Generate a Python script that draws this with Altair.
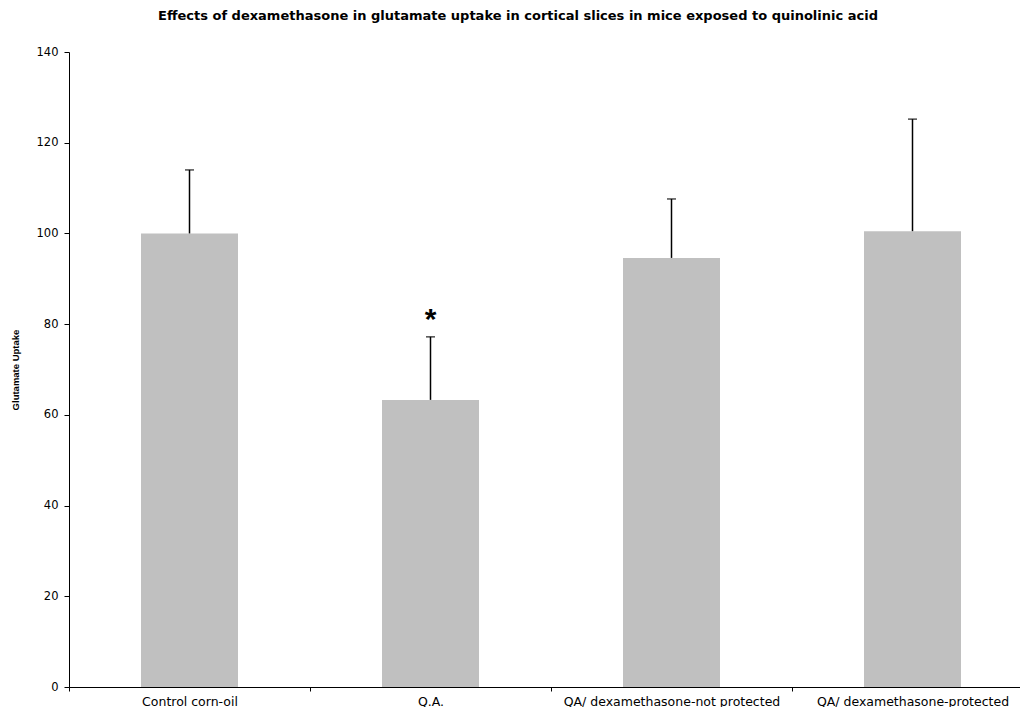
import altair as alt
import pandas as pd

categories = ["Control corn-oil", "Q.A.", "QA/ dexamethasone-not protected", "QA/ dexamethasone-protected"]
means = [100.0, 63.3, 94.6, 100.5]
upper = [114.0, 77.2, 107.6, 125.2]
markers = ["", "*", "", ""]

df = pd.DataFrame({"cat": categories, "mean": means, "upper": upper, "mark": markers})

x = alt.X("cat:N", sort=categories, title=None,
          scale=alt.Scale(range=[0, 964], paddingInner=0, paddingOuter=0),
          axis=alt.Axis(labelAngle=0, tickBand="extent", tickSize=4, labelPadding=4, labelLimit=0,
                        labelFont="DejaVu Sans", labelFontSize=12.5, labelColor="black",
                        domainColor="black", tickColor="black"))
y = alt.Y("mean:Q", title="Glutamate Uptake",
          scale=alt.Scale(domain=[0, 140], nice=False),
          axis=alt.Axis(values=list(range(0, 141, 20)), grid=False, tickSize=5, labelPadding=6,
                        labelFont="DejaVu Sans", labelFontSize=11.5, labelColor="black",
                        domainColor="black", tickColor="black",
                        titleFont="Liberation Sans", titleFontSize=9.5, titleFontWeight="bold",
                        titleColor="black", titleX=-51, titleBaseline="alphabetic"))

bars = alt.Chart(df).mark_bar(color="#c0c0c0", size=97).encode(x=x, y=y)
rules = alt.Chart(df).mark_rule(color="black", strokeWidth=1.5).encode(
    x=alt.X("cat:N", sort=categories), y="mean:Q", y2="upper:Q")
caps = alt.Chart(df).mark_tick(color="black", size=9, thickness=1.5).encode(
    x=alt.X("cat:N", sort=categories), y="upper:Q")
star = alt.Chart(df).mark_text(font="Liberation Sans", fontSize=30, fontWeight="bold",
                               baseline="alphabetic", dy=-8, color="black").encode(
    x=alt.X("cat:N", sort=categories), y="upper:Q", text="mark:N")

chart = alt.layer(bars, rules, caps, star).properties(
    width=950, height=635,
    title=alt.TitleParams("Effects of dexamethasone in glutamate uptake in cortical slices in mice exposed to quinolinic acid",
                          font="DejaVu Sans", fontSize=13, fontWeight="bold", color="black",
                          anchor="middle", frame="group", dx=-26, offset=23),
    autosize=alt.AutoSizeParams(type="none"),
    padding={"left": 61, "top": 44, "right": 1, "bottom": 20},
    view=alt.ViewBackground(stroke="transparent", strokeWidth=0),
).configure_view(stroke="transparent", strokeWidth=0).configure(background="white")

chart.save("out.html", embed_options={"renderer": "svg", "actions": False})
